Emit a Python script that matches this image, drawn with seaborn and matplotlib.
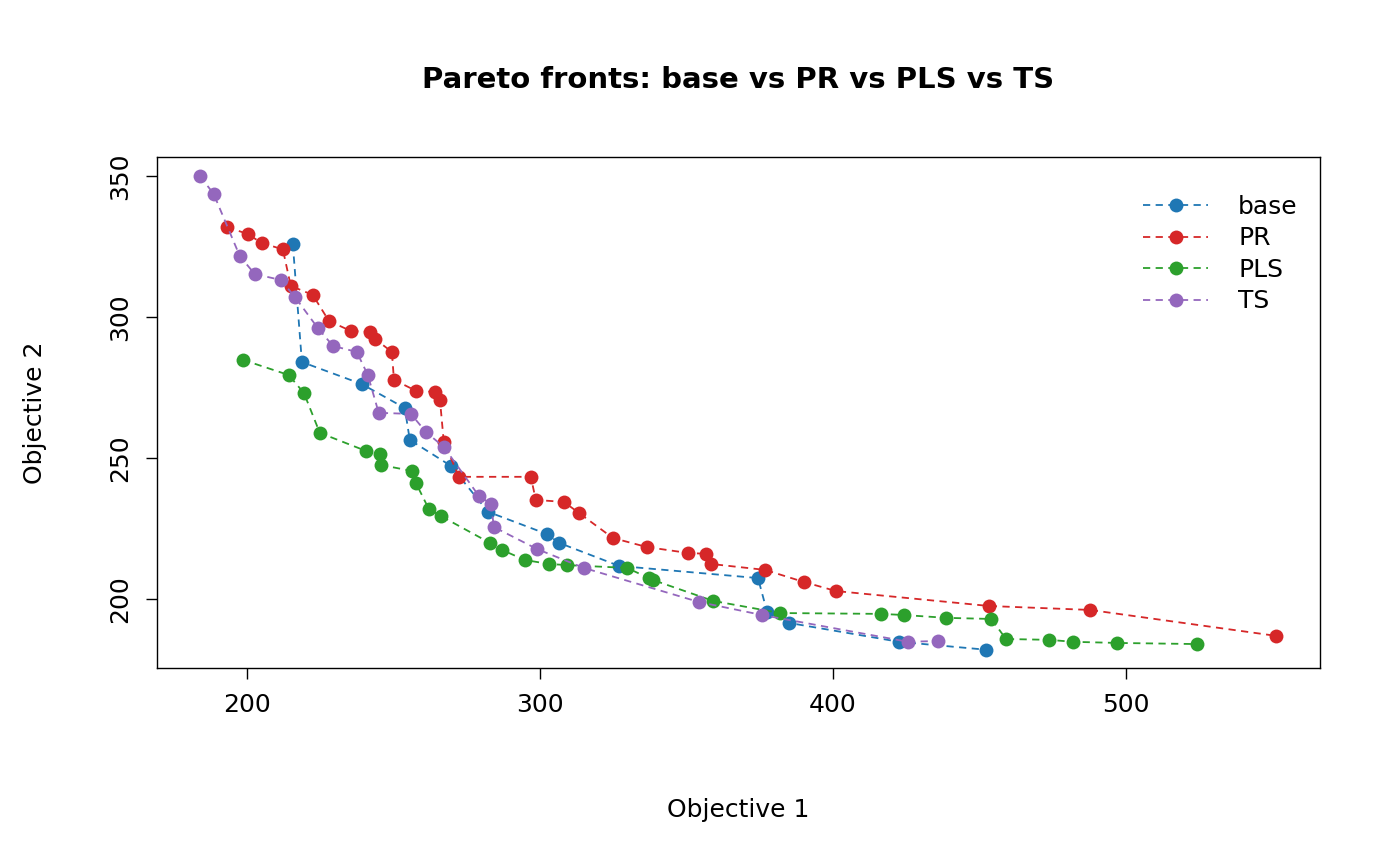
import matplotlib
matplotlib.use("Agg")
import matplotlib.pyplot as plt
import seaborn as sns
import pandas as pd

base_x = [215.7, 218.8, 239.2, 253.9, 255.6, 269.6, 282.3, 302.4, 306.5, 327.0, 374.4, 377.5, 385.0, 422.5, 452.2]
base_y = [325.9, 284.0, 276.2, 267.7, 256.4, 247.2, 230.9, 223.0, 219.9, 211.7, 207.4, 195.4, 191.5, 184.8, 182.0]

pr_x = [193.2, 200.3, 205.1, 212.3, 212.3, 215.0, 222.5, 228.0, 235.5, 242.0, 243.7, 249.5, 250.2, 257.7,
        264.2, 265.9, 267.2, 272.4, 296.9, 298.6, 308.2, 313.3, 324.9, 336.5, 350.5, 356.7, 358.4, 376.8,
        390.1, 401.0, 453.2, 487.7, 487.7, 551.2]
pr_y = [331.9, 329.4, 326.2, 324.5, 323.4, 311.0, 307.8, 298.6, 295.0, 294.7, 292.2, 287.6, 277.7, 273.8,
        273.4, 270.6, 255.7, 243.3, 243.3, 235.1, 234.4, 230.5, 221.6, 218.4, 216.3, 216.0, 212.4, 210.3,
        206.0, 202.8, 197.5, 196.8, 195.4, 186.9]

pls_x = [198.6, 214.3, 219.5, 224.9, 240.6, 245.4, 245.7, 256.3, 257.7, 262.1, 266.2, 282.9, 287.0, 294.9,
         303.1, 309.2, 329.7, 337.2, 338.6, 359.1, 382.0, 416.4, 424.2, 438.6, 454.0, 459.0, 473.7, 481.9,
         496.9, 524.2]
pls_y = [284.8, 279.4, 273.0, 258.9, 252.5, 251.4, 247.5, 245.4, 241.1, 231.9, 229.4, 219.9, 217.4, 213.8,
         212.4, 212.0, 211.0, 207.4, 206.7, 199.3, 195.0, 194.7, 194.3, 193.3, 192.9, 185.8, 185.5, 184.8,
         184.4, 184.0]

ts_x = [184.0, 188.7, 197.6, 202.7, 211.6, 216.4, 224.2, 229.4, 237.5, 241.3, 245.0, 256.0, 261.1, 267.2,
        279.2, 283.3, 284.3, 299.0, 315.0, 354.3, 375.8, 425.6, 435.8]
ts_y = [350.0, 343.6, 321.6, 315.2, 313.1, 307.1, 296.1, 289.7, 287.6, 279.4, 266.0, 265.6, 259.2, 253.9,
        236.5, 233.7, 225.5, 217.7, 211.0, 198.9, 194.3, 184.8, 185.1]

series = [("base", base_x, base_y, "#1f77b4"),
          ("PR", pr_x, pr_y, "#d62728"),
          ("PLS", pls_x, pls_y, "#2ca02c"),
          ("TS", ts_x, ts_y, "#9467bd")]

sns.set_style("ticks")
plt.rcParams['font.family'] = ['DejaVu Sans']
plt.rcParams['text.color'] = 'black'
plt.rcParams['axes.labelcolor'] = 'black'
plt.rcParams['xtick.color'] = 'black'
plt.rcParams['ytick.color'] = 'black'

fig = plt.figure(figsize=(14, 8.65), dpi=100)
ax = fig.add_axes([0.112, 0.2277, 0.831, 0.5908])

for name, xs, ys, col in series:
    d = pd.DataFrame({"x": xs, "y": ys})
    sns.lineplot(data=d, x="x", y="y", sort=False, ax=ax, color=col, label=name,
                 linestyle=(0, (4, 3)), linewidth=1.3, marker="o", markersize=10,
                 markeredgewidth=0)

ax.set_xlim(169.3, 566.2)
ax.set_ylim(175.5, 356.7)
ax.set_xticks([200, 300, 400, 500])
ax.set_yticks([200, 250, 300, 350])
ax.tick_params(axis="both", labelsize=18, length=8, width=1, direction="out", pad=10)
plt.setp(ax.get_yticklabels(), rotation=90, va="center")
for s in ax.spines.values():
    s.set_visible(True)
    s.set_color("black")
    s.set_linewidth(1)

ax.set_xlabel("Objective 1", fontsize=18, labelpad=58)
ax.set_ylabel("Objective 2", fontsize=18, labelpad=44)
fig.text(0.527, 0.908, "Pareto fronts: base vs PR vs PLS vs TS", fontsize=21,
         fontweight="bold", ha="center", va="center")

ax.legend(loc="upper right", frameon=False, fontsize=18, handlelength=2.6,
          handletextpad=1.2, labelspacing=0.3, bbox_to_anchor=(1.0, 0.97))

fig.savefig("out.png", dpi=100)
